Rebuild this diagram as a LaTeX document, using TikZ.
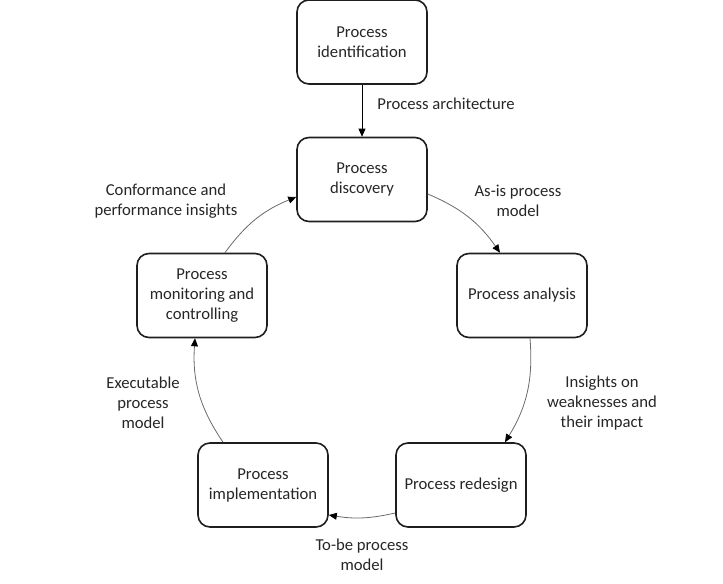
\documentclass[tikz,border=0pt]{standalone}
\usepackage{fontspec}
\setmainfont{Carlito}
\usetikzlibrary{arrows.meta}
\definecolor{boxc}{HTML}{1E1E1E}
\definecolor{txtc}{HTML}{262626}
\definecolor{curvec}{HTML}{6A6A6A}
\begin{document}
\begin{tikzpicture}[x=0.75pt,y=-0.75pt,
  every node/.style={font=\fontsize{12.5}{15}\selectfont, text=txtc, align=center},
  box/.style={draw=boxc, line width=1.2pt, rounded corners=9pt,
    minimum width=97.5pt, minimum height=63pt, inner sep=2pt},
  lbl/.style={inner sep=0pt},
  tip/.style={-{Triangle[length=6pt,width=5.2pt,black]}},
  straightarr/.style={tip, draw=black, line width=0.6pt},
  curvearr/.style={tip, draw=curvec, line width=0.6pt}]
\useasboundingbox (0,0) rectangle (723,584);
\node[box] (ident) at (362,42) {Process\\identification};
\node[box] (disc) at (362,179.5) {Process\\discovery};
\node[box] (anal) at (522,295.5) {Process analysis};
\node[box] (rede) at (461,485) {Process redesign};
\node[box] (impl) at (263,485) {Process\\implementation};
\node[box] (moni) at (202,295.5) {Process\\monitoring and\\controlling};

\draw[straightarr] (ident) -- (disc);
\draw[curvearr] (disc.east |- 0,194) to[bend left=16] (anal.north -| 500,0);
\draw[curvearr] (anal.south -| 530,0) to[bend left=18] (rede.north -| 505,0);
\draw[curvearr] (rede.west |- 0,513) to[bend left=11] (impl.east |- 0,515);
\draw[curvearr] (impl.north -| 223,0) to[bend left=19] (moni.south -| 195,0);
\draw[curvearr] (moni.north -| 225,0) to[bend left=16] (disc.west |- 0,197);

\node[lbl] (l1) at (446,104) {Process architecture};
\node[lbl] (l2) at (518,201) {As-is process\\model};
\node[lbl] (l3) at (602,403) {Insights on\\weaknesses and\\their impact};
\node[lbl] (l4) at (362,555) {To-be process\\model};
\node[lbl] (l5) at (143,403) {Executable\\process\\model};
\node[lbl] (l6) at (166,201) {Conformance and\\performance insights};
\end{tikzpicture}
\end{document}
